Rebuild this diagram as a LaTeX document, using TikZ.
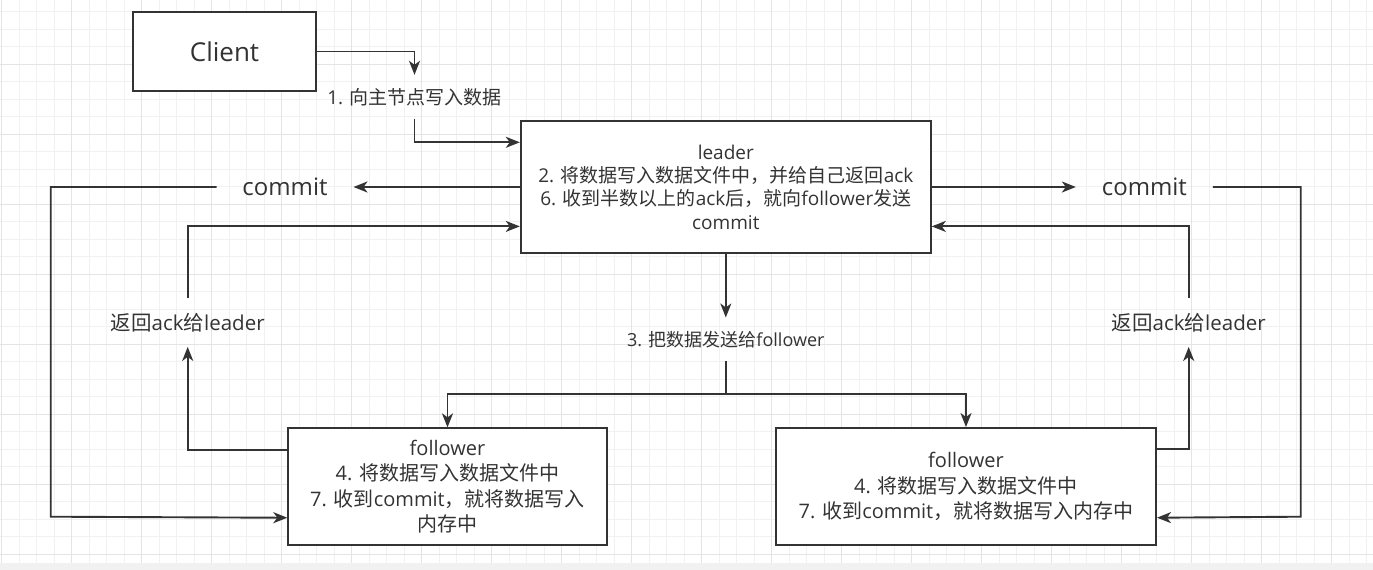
\documentclass[tikz,border=0pt]{standalone}
\usepackage{fontspec}
\setmainfont{Open Sans}
\newfontfamily\zhfont{Noto Sans CJK SC}
\newcommand{\zh}[1]{{\zhfont #1}}
\usepackage{xcolor}
\usepackage{tikz}
\usetikzlibrary{arrows.meta}
\definecolor{inkc}{HTML}{333333}
\definecolor{gridmin}{HTML}{F1F1F1}
\definecolor{gridmaj}{HTML}{E4E4E4}
\tikzset{
  rbox/.style={draw=inkc, line width=2pt, fill=white, align=center, inner sep=0pt, text=inkc},
  rlbl/.style={inner sep=0pt, align=center, text=inkc},
  rarr/.style={-{Stealth[length=14pt,width=11pt,inset=4pt]}, line width=1.9pt, draw=inkc}
}

\begin{document}
\begin{tikzpicture}[x=1pt, y=-1pt]
\useasboundingbox (0,0) rectangle (1373,570);
% grid
\fill[white] (0,0) rectangle (1373,563);
\foreach \i in {0,...,78} \draw[gridmin, line width=1pt] (1.7+17.5*\i,0) -- (1.7+17.5*\i,563);
\foreach \j in {0,...,31} \draw[gridmin, line width=1pt] (0,11.5+17.5*\j) -- (1373,11.5+17.5*\j);
\foreach \i in {0,...,19} \draw[gridmaj, line width=1pt] (1.7+70*\i,0) -- (1.7+70*\i,563);
\foreach \j in {0,...,7} \draw[gridmaj, line width=1pt] (0,64+70*\j) -- (1373,64+70*\j);
\fill[gridmin] (0,563) rectangle (1373,570);

\node[rbox, minimum width=183pt, minimum height=79pt, font=\fontsize{26}{30}\selectfont] (client) at (224.5,51.5) {Client};
\node[rbox, minimum width=410pt, minimum height=132.6pt, font=\fontsize{19}{23.3}\selectfont] (leader) at (725.8,187) {leader\\2. \zh{将数据写入数据文件中，并给自己返回}ack\\6. \zh{收到半数以上的}ack\zh{后，就向}follower\zh{发送}\\commit};
\node[rbox, minimum width=318.4pt, minimum height=116.7pt, font=\fontsize{20}{25.4}\selectfont] (f1) at (447.5,486.7) {follower\\4. \zh{将数据写入数据文件中}\\7. \zh{收到}commit\zh{，就将数据写入}\\\zh{内存中}};
\node[rbox, minimum width=380pt, minimum height=117pt, font=\fontsize{20}{25.4}\selectfont] (f2) at (966,486.5) {follower\\4. \zh{将数据写入数据文件中}\\7. \zh{收到}commit\zh{，就将数据写入内存中}};

\node[rlbl, minimum height=44pt, font=\fontsize{19}{23}\selectfont] (lab1) at (414.5,97) {1. \zh{向主节点写入数据}};
\node[rlbl, minimum width=136.6pt, font=\fontsize{24}{28}\selectfont] (cmtL) at (285,187) {commit};
\node[rlbl, minimum width=136.7pt, font=\fontsize{24}{28}\selectfont] (cmtR) at (1144.4,187) {commit};
\node[rlbl, minimum height=48.4pt, font=\fontsize{20.5}{24}\selectfont] (ackL) at (187.7,322.5) {\zh{返回}ack\zh{给}leader};
\node[rlbl, minimum height=48.4pt, font=\fontsize{20.5}{24}\selectfont] (ackR) at (1188.7,322.5) {\zh{返回}ack\zh{给}leader};
\node[rlbl, minimum height=43.3pt, font=\fontsize{18}{22}\selectfont] (lab3) at (725.8,339.3) {3. \zh{把数据发送给}follower};
\coordinate (split) at (725.8,394.3);

% client to leader
\draw[rarr] (client.east) -| (lab1.north);
\draw[rarr] (lab1.south) |- ([yshift=-22.6pt]leader.north west);
% leader to followers
\draw[rarr] (leader.south) -- (lab3.north);
\draw[rarr] (lab3.south) -- (split) -| (f1.north);
\draw[rarr] (split) -| (f2.north);
% acks
\draw[rarr] ([yshift=-22.4pt]f1.north west) -| (ackL.south);
\draw[rarr] (ackL.north) |- ([yshift=27.9pt]leader.south west);
\draw[rarr] ([yshift=-22.4pt]f2.north east) -| (ackR.south);
\draw[rarr] (ackR.north) |- ([yshift=27.9pt]leader.south east);
% commits
\draw[rarr] (leader.west) -- (cmtL.east);
\draw[rarr] (cmtL.west) -| (50.7,516.7) -- ([yshift=28.3pt]f1.south west);
\draw[rarr] (leader.east) -- (cmtR.west);
\draw[rarr] (cmtR.east) -| (1300.7,516.7) -- ([yshift=28.3pt]f2.south east);
\end{tikzpicture}
\end{document}
